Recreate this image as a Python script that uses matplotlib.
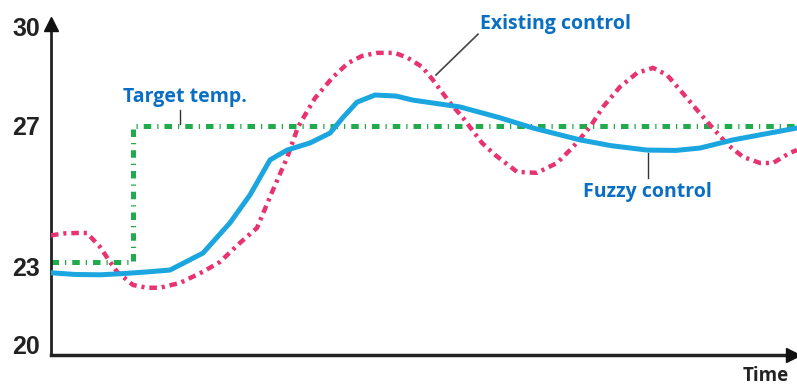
import matplotlib.pyplot as plt
from matplotlib.transforms import ScaledTranslation, blended_transform_factory

# time axis in arbitrary units (0 = origin of the axes)
target_t = [0, 82, 82, 746]
target_temp = [23.0, 23.0, 27.0, 27.0]

fuzzy_t = [0, 24, 49, 69, 94, 119, 152, 179, 199, 219, 236, 259, 279, 292,
           306, 324, 345, 362, 409, 449, 482, 529, 560, 596, 625, 649, 682, 746]
fuzzy_temp = [22.68, 22.63, 22.62, 22.65, 22.7, 22.76, 23.26, 24.15, 24.97,
              26.0, 26.29, 26.5, 26.79, 27.25, 27.7, 27.91, 27.88, 27.76,
              27.56, 27.24, 26.94, 26.59, 26.42, 26.29, 26.28, 26.35, 26.59,
              26.94]

existing_t = [0, 14, 26, 36, 49, 59, 66, 82, 96, 109, 129, 152, 169, 189, 206,
              221, 236, 247, 264, 282, 297, 311, 326, 344, 357, 371, 382, 399,
              412, 431, 444, 466, 486, 506, 522, 539, 552, 569, 586, 602, 616,
              629, 646, 659, 677, 692, 709, 722, 739, 746]
existing_temp = [23.78, 23.84, 23.85, 23.85, 23.44, 23.0, 22.71, 22.32, 22.24,
                 22.24, 22.38, 22.71, 23.0, 23.56, 24.0, 25.05, 26.06, 26.97,
                 27.82, 28.44, 28.85, 29.06, 29.15, 29.15, 29.0, 28.74, 28.35,
                 27.68, 27.24, 26.5, 26.15, 25.65, 25.62, 25.91, 26.38, 26.97,
                 27.56, 28.15, 28.56, 28.71, 28.5, 28.06, 27.47, 27.03, 26.44,
                 26.09, 25.91, 25.91, 26.21, 26.29]

y_ticks = [20, 23, 27, 30]

fig = plt.figure(figsize=(7.97, 3.91), dpi=100)
ax = fig.add_axes([51 / 797, 36 / 391, 746 / 797, 331 / 391])
ax.set_xlim(0, 746)
ax.set_ylim(20.26, 30.0)

ax.plot(target_t, target_temp, color='#22ab4c', lw=3.6,
        dashes=(1.5, 1.2, 0.25, 1.2), zorder=2)
ax.plot(existing_t, existing_temp, color='#e8336f', lw=3.2,
        dashes=(1.7, 1.1, 0.7, 1.1), zorder=3)
ax.plot(fuzzy_t, fuzzy_temp, color='#1ba6e0', lw=3.6,
        solid_capstyle='round', solid_joinstyle='round', zorder=4)

# axes with arrow heads
for s in ['top', 'right']:
    ax.spines[s].set_visible(False)
ax.spines['left'].set_linewidth(2)
ax.spines['bottom'].set_linewidth(2.5)
ax.spines['left'].set_color('#222222')
ax.spines['bottom'].set_color('#222222')
ax.plot(0, 1.0, '^', color='#111111', ms=10, transform=ax.transAxes,
        clip_on=False, zorder=5)
ax.plot(0.995, 0, '>', color='#111111', ms=10, transform=ax.transAxes,
        clip_on=False, zorder=5)

ax.set_xticks([])
ax.set_yticks([])

# value labels, placed by hand since they sit slightly off the value lines
shift_px = [17, -7, -2, -5]
ytrans = blended_transform_factory(ax.transAxes, ax.transData)
for v, dy in zip(y_ticks, shift_px):
    off = ScaledTranslation(-11 / 100, dy / 100, fig.dpi_scale_trans)
    ax.text(0, v, str(v), transform=ytrans + off, ha='right', va='center',
            family=['Liberation Sans', 'DejaVu Sans'], fontweight='bold',
            fontsize=18, color='#222222')

fig.text(0.99, 0.012, 'Time', ha='right', va='bottom', fontsize=13.5,
         fontweight='bold', family='Open Sans', color='#222222')

lab = dict(color='#0a6fc2', fontsize=14, fontweight='bold', family='Open Sans')
ax.text(72, 27.85, 'Target temp.', ha='left', va='center', **lab)
ax.plot([129, 129], [27.47, 27.06], color='#333333', lw=1)
ax.text(429, 30.0, 'Existing control', ha='left', va='center', **lab)
ax.plot([427, 385], [29.7, 28.5], color='#444444', lw=1.2)
ax.text(532, 25.06, 'Fuzzy control', ha='left', va='center', **lab)
ax.plot([597, 597], [26.2, 25.47], color='#333333', lw=1)

fig.savefig('out.png', dpi=100)
